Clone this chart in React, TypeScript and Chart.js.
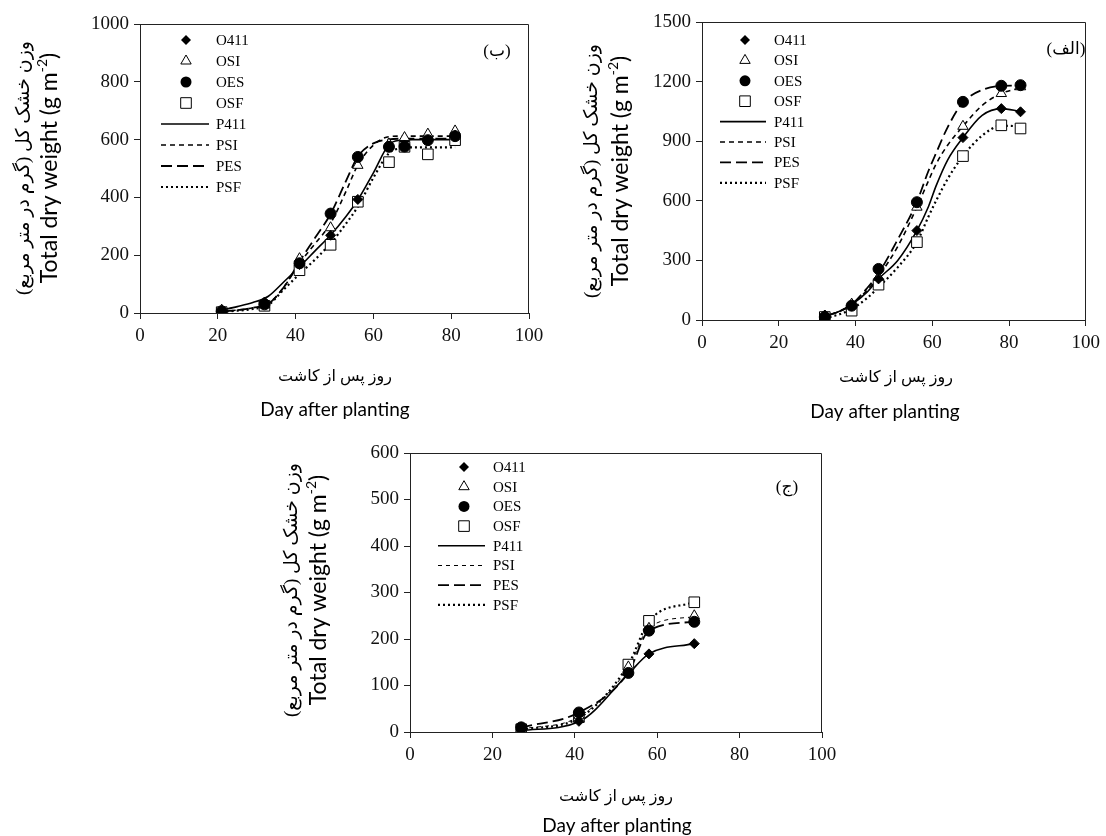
import React, { useEffect, useRef } from "react";
import { Chart, registerables } from "chart.js";

Chart.register(...registerables);

// ---------------- Panel (ب) : top-left ----------------
const xTicksB = [0, 20, 40, 60, 80, 100];
const yTicksB = [0, 200, 400, 600, 800, 1000];
const daysB = [21, 32, 41, 49, 56, 64, 68, 74, 81];
const b_O411 = [8, 38, 168, 269, 393, 578, 581, 598, 615];
const b_OSI = [10, 28, 188, 295, 511, 585, 607, 619, 630];
const b_OES = [6, 30, 172, 344, 540, 575, 576, 598, 612];
const b_OSF = [3, 25, 148, 236, 385, 522, 575, 549, 598];
const fitDaysB = [21, 25, 29, 33, 37, 41, 45, 49, 53, 56, 60, 64, 67, 70, 75, 81];
const b_P411 = [10, 22, 36, 58, 108, 160, 215, 270, 335, 391, 485, 583, 598, 600, 600, 600];
const b_PSI = [5, 10, 18, 32, 90, 172, 240, 310, 422, 512, 581, 610, 612, 612, 612, 612];
const b_PES = [5, 10, 18, 32, 90, 178, 260, 343, 458, 541, 587, 601, 603, 603, 603, 603];
const b_PSF = [5, 8, 14, 28, 82, 135, 185, 241, 310, 368, 468, 553, 570, 573, 573, 573];

// ---------------- Panel (الف) : top-right ----------------
const xTicksA = [0, 20, 40, 60, 80, 100];
const yTicksA = [0, 300, 600, 900, 1200, 1500];
const daysA = [32, 39, 46, 56, 68, 78, 83];
const a_O411 = [25, 72, 207, 450, 918, 1064, 1048];
const a_OSI = [20, 80, 215, 568, 975, 1140, 1174];
const a_OES = [15, 72, 257, 593, 1098, 1179, 1182];
const a_OSF = [15, 47, 178, 392, 825, 980, 964];
const fitDaysA = [32, 36, 39, 43, 46, 51, 56, 59, 61, 64, 68, 73, 78, 83];
const a_P411 = [18, 45, 77, 140, 207, 300, 450, 570, 675, 805, 918, 1030, 1064, 1050];
const a_PSI = [18, 45, 78, 150, 220, 370, 568, 700, 785, 880, 975, 1080, 1140, 1168];
const a_PES = [20, 45, 78, 160, 235, 405, 595, 750, 840, 970, 1095, 1158, 1178, 1180];
const a_PSF = [8, 30, 55, 110, 165, 265, 392, 520, 600, 710, 825, 928, 978, 975];

// ---------------- Panel (ج) : bottom ----------------
const xTicksC = [0, 20, 40, 60, 80, 100];
const yTicksC = [0, 100, 200, 300, 400, 500, 600];
const daysC = [27, 41, 53, 58, 69];
const c_O411 = [5, 23, 127, 168, 190];
const c_OSI = [8, 35, 140, 223, 250];
const c_OES = [10, 42, 127, 218, 237];
const c_OSF = [6, 32, 145, 239, 279];
const fitDaysC = [27, 41, 53, 58, 69];
const c_P411 = [3, 22, 125, 168, 190];
const c_PSI = [6, 33, 138, 225, 248];
const c_PES = [10, 42, 128, 218, 237];
const c_PSF = [5, 30, 145, 238, 280];

const obsLabels = ["O411", "OSI", "OES", "OSF"];
const fitLabels = ["P411", "PSI", "PES", "PSF"];

const yTitleFa = "وزن خشک کل (گرم در متر مربع)";
const yTitleEn = "Total dry weight (g m";
const yTitleSup = "-2";
const xTitleFa = "روز پس از کاشت";
const xTitleEn = "Day after planting";

const SERIF = '"Liberation Serif", "Times New Roman", "DejaVu Sans", serif';
const SANS = 'Lato, "Open Sans", "Liberation Sans", sans-serif';

type MarkerKind = "diamond" | "triangle" | "circle" | "square";
const markerDefs: { kind: MarkerKind; pointStyle: string; radius: number; fill: string }[] = [
  { kind: "diamond", pointStyle: "rectRot", radius: 5, fill: "#000" },
  { kind: "triangle", pointStyle: "triangle", radius: 6, fill: "#fff" },
  { kind: "circle", pointStyle: "circle", radius: 5.5, fill: "#000" },
  { kind: "square", pointStyle: "rect", radius: 7.5, fill: "#fff" },
];
const lineDefs = [
  { dash: [] as number[], width: 1.6 },
  { dash: [5, 4], width: 1.6 },
  { dash: [11, 5], width: 1.8 },
  { dash: [2, 3], width: 2.2 },
];

interface PanelSpec {
  box: { left: number; top: number; width: number; height: number };
  area: { left: number; top: number; right: number; bottom: number };
  xTicks: number[];
  yTicks: number[];
  obsDays: number[];
  obs: number[][];
  fitDays: number[];
  fits: number[][];
  legend: { markerX: number; textX: number; lineX1: number; lineX2: number; y0: number; dy: number };
  tag: { text: string; x: number; y: number };
  yTitle: { faX: number; enX: number; y: number };
  xTitle: { faX: number; enX: number; faY: number; enY: number };
  thinPSI?: boolean;
}

const panels: PanelSpec[] = [
  {
    box: { left: 0, top: 0, width: 560, height: 425 },
    area: { left: 140, top: 24, right: 529, bottom: 313 },
    xTicks: xTicksB,
    yTicks: yTicksB,
    obsDays: daysB,
    obs: [b_O411, b_OSI, b_OES, b_OSF],
    fitDays: fitDaysB,
    fits: [b_P411, b_PSI, b_PES, b_PSF],
    legend: { markerX: 186, textX: 216, lineX1: 161, lineX2: 209, y0: 40, dy: 21 },
    tag: { text: "(ب)", x: 497, y: 52 },
    yTitle: { faX: 24, enX: 50, y: 168 },
    xTitle: { faX: 335, enX: 335, faY: 377, enY: 410 },
  },
  {
    box: { left: 560, top: 0, width: 546, height: 430 },
    area: { left: 702, top: 22, right: 1090, bottom: 320 },
    xTicks: xTicksA,
    yTicks: yTicksA,
    obsDays: daysA,
    obs: [a_O411, a_OSI, a_OES, a_OSF],
    fitDays: fitDaysA,
    fits: [a_P411, a_PSI, a_PES, a_PSF],
    legend: { markerX: 745, textX: 774, lineX1: 720, lineX2: 766, y0: 40, dy: 20.4 },
    tag: { text: "(الف)", x: 1066, y: 50 },
    yTitle: { faX: 592, enX: 621, y: 171 },
    xTitle: { faX: 896, enX: 885, faY: 378, enY: 412 },
  },
  {
    box: { left: 250, top: 430, width: 600, height: 406 },
    area: { left: 410, top: 453, right: 822, bottom: 732 },
    xTicks: xTicksC,
    yTicks: yTicksC,
    obsDays: daysC,
    obs: [c_O411, c_OSI, c_OES, c_OSF],
    fitDays: fitDaysC,
    fits: [c_P411, c_PSI, c_PES, c_PSF],
    legend: { markerX: 464, textX: 493, lineX1: 438, lineX2: 485, y0: 467, dy: 19.7 },
    tag: { text: "(ج)", x: 787, y: 488 },
    yTitle: { faX: 292, enX: 319, y: 590 },
    xTitle: { faX: 616, enX: 617, faY: 797, enY: 826 },
    thinPSI: true,
  },
];

function drawMarker(ctx: CanvasRenderingContext2D, kind: MarkerKind, x: number, y: number) {
  ctx.save();
  ctx.lineWidth = 1;
  ctx.strokeStyle = "#000";
  ctx.beginPath();
  if (kind === "diamond") {
    const r = 5;
    ctx.moveTo(x, y - r);
    ctx.lineTo(x + r, y);
    ctx.lineTo(x, y + r);
    ctx.lineTo(x - r, y);
    ctx.closePath();
    ctx.fillStyle = "#000";
    ctx.fill();
  } else if (kind === "triangle") {
    const r = 6;
    const s = Math.sin((2 * Math.PI) / 3) * r;
    ctx.moveTo(x, y - r);
    ctx.lineTo(x + s, y + r / 2);
    ctx.lineTo(x - s, y + r / 2);
    ctx.closePath();
    ctx.fillStyle = "#fff";
    ctx.fill();
    ctx.stroke();
  } else if (kind === "circle") {
    ctx.arc(x, y, 5.5, 0, Math.PI * 2);
    ctx.fillStyle = "#000";
    ctx.fill();
  } else {
    const h = 7.5 * Math.SQRT1_2;
    ctx.rect(x - h, y - h, 2 * h, 2 * h);
    ctx.fillStyle = "#fff";
    ctx.fill();
    ctx.stroke();
  }
  ctx.restore();
}

function PanelChart({ p }: { p: PanelSpec }) {
  const ref = useRef<HTMLCanvasElement | null>(null);
  useEffect(() => {
    const canvas = ref.current;
    if (!canvas) return;
    const ox = p.box.left;
    const oy = p.box.top;
    const xScaleH = 40;
    const yScaleW = p.area.left - ox;

    const datasets: any[] = [];
    const order = [0, 2, 1, 3];
    order.forEach((i) => {
      const m = markerDefs[i];
      datasets.push({
        label: obsLabels[i],
        data: p.obsDays.map((d, k) => ({ x: d, y: p.obs[i][k] })),
        showLine: false,
        pointStyle: m.pointStyle,
        pointRadius: m.radius,
        pointHoverRadius: m.radius,
        pointBackgroundColor: m.fill,
        pointBorderColor: "#000",
        pointBorderWidth: 1,
      });
    });
    [0, 1, 2, 3].forEach((i) => {
      const l = lineDefs[i];
      const thin = p.thinPSI && i === 1;
      datasets.push({
        label: fitLabels[i],
        data: p.fitDays.map((d, k) => ({ x: d, y: p.fits[i][k] })),
        showLine: true,
        pointRadius: 0,
        borderColor: "#000",
        borderWidth: thin ? 1 : l.width,
        borderDash: thin ? [4, 4] : l.dash,
        cubicInterpolationMode: "monotone",
        fill: false,
      });
    });

    const decor = {
      id: "decor",
      afterDraw(chart: any) {
        const ctx: CanvasRenderingContext2D = chart.ctx;
        const ca = chart.chartArea;
        ctx.save();
        // frame (top & right)
        ctx.strokeStyle = "#222";
        ctx.lineWidth = 1;
        ctx.beginPath();
        ctx.moveTo(Math.round(ca.left), Math.round(ca.top) + 0.5);
        ctx.lineTo(Math.round(ca.right) - 0.5, Math.round(ca.top) + 0.5);
        ctx.lineTo(Math.round(ca.right) - 0.5, Math.round(ca.bottom));
        ctx.stroke();

        // legend
        const lg = p.legend;
        ctx.fillStyle = "#000";
        ctx.font = `15px ${SERIF}`;
        ctx.textBaseline = "middle";
        ctx.textAlign = "left";
        for (let i = 0; i < 4; i++) {
          const y = lg.y0 + lg.dy * i - oy;
          drawMarker(ctx, markerDefs[i].kind, lg.markerX - ox, y);
          ctx.fillStyle = "#000";
          ctx.fillText(obsLabels[i], lg.textX - ox, y + 1);
        }
        for (let i = 0; i < 4; i++) {
          const y = lg.y0 + lg.dy * (i + 4) - oy;
          const l = lineDefs[i];
          const thin = p.thinPSI && i === 1;
          ctx.save();
          ctx.strokeStyle = "#000";
          ctx.lineWidth = thin ? 1 : l.width;
          ctx.setLineDash(thin ? [4, 4] : l.dash);
          ctx.beginPath();
          ctx.moveTo(lg.lineX1 - ox, y);
          ctx.lineTo(lg.lineX2 - ox, y);
          ctx.stroke();
          ctx.restore();
          ctx.fillText(fitLabels[i], lg.textX - ox, y + 1);
        }

        // panel tag
        ctx.font = `17px ${SERIF}`;
        ctx.textAlign = "center";
        ctx.fillText(p.tag.text, p.tag.x - ox, p.tag.y - oy);

        // x titles
        ctx.font = `16px ${SERIF}`;
        ctx.fillText(xTitleFa, p.xTitle.faX - ox, p.xTitle.faY - oy);
        ctx.font = `19px ${SANS}`;
        ctx.fillText(xTitleEn, p.xTitle.enX - ox, p.xTitle.enY - oy);

        // y titles (rotated)
        ctx.save();
        ctx.translate(p.yTitle.faX - ox, p.yTitle.y - oy);
        ctx.rotate(-Math.PI / 2);
        ctx.font = `19px ${SERIF}`;
        ctx.textAlign = "center";
        ctx.fillText(yTitleFa, 0, 0);
        ctx.restore();

        ctx.save();
        ctx.translate(p.yTitle.enX - ox, p.yTitle.y - oy);
        ctx.rotate(-Math.PI / 2);
        ctx.textAlign = "left";
        const mainFont = `23px ${SANS}`;
        const supFont = `14px ${SANS}`;
        ctx.font = mainFont;
        const w1 = ctx.measureText(yTitleEn).width;
        const w3 = ctx.measureText(")").width;
        ctx.font = supFont;
        const w2 = ctx.measureText(yTitleSup).width;
        const total = w1 + w2 + w3;
        let x = -total / 2;
        ctx.font = mainFont;
        ctx.fillText(yTitleEn, x, 0);
        x += w1;
        ctx.font = supFont;
        ctx.fillText(yTitleSup, x, -8);
        x += w2;
        ctx.font = mainFont;
        ctx.fillText(")", x, 0);
        ctx.restore();

        ctx.restore();
      },
    };

    const tickFont = { family: SERIF, size: 19 };
    const plain = (v: any) => String(v);
    const chart = new Chart(canvas, {
      type: "scatter",
      data: { datasets },
      options: {
        animation: false,
        responsive: false,
        maintainAspectRatio: false,
        events: [],
        layout: {
          padding: {
            left: 0,
            top: p.area.top - oy,
            right: ox + p.box.width - p.area.right,
            bottom: oy + p.box.height - p.area.bottom - xScaleH,
          },
        },
        plugins: {
          legend: { display: false },
          tooltip: { enabled: false },
          title: { display: false },
        },
        scales: {
          x: {
            type: "linear",
            min: p.xTicks[0],
            max: p.xTicks[p.xTicks.length - 1],
            afterBuildTicks: (s: any) => {
              s.ticks = p.xTicks.map((v) => ({ value: v }));
            },
            afterFit: (s: any) => {
              s.height = xScaleH;
            },
            ticks: { color: "#111", font: tickFont, padding: 6, maxRotation: 0, autoSkip: false, callback: plain },
            grid: { drawOnChartArea: false, drawTicks: true, tickLength: 6, color: "#222" },
            border: { display: true, color: "#222", width: 1 },
          },
          y: {
            type: "linear",
            min: p.yTicks[0],
            max: p.yTicks[p.yTicks.length - 1],
            afterBuildTicks: (s: any) => {
              s.ticks = p.yTicks.map((v) => ({ value: v }));
            },
            afterFit: (s: any) => {
              s.width = yScaleW;
            },
            ticks: { color: "#111", font: tickFont, padding: 5, autoSkip: false, callback: plain },
            grid: { drawOnChartArea: false, drawTicks: true, tickLength: 6, color: "#222" },
            border: { display: true, color: "#222", width: 1 },
          },
        },
      },
      plugins: [decor],
    } as any);
    return () => chart.destroy();
  }, []);
  return (
    <canvas
      ref={ref}
      width={p.box.width}
      height={p.box.height}
      style={{
        position: "absolute",
        left: p.box.left,
        top: p.box.top,
        width: p.box.width,
        height: p.box.height,
      }}
    />
  );
}

export default function App() {
  return (
    <div
      style={{
        position: "absolute",
        left: 0,
        top: 0,
        width: 1106,
        height: 836,
        background: "#fff",
        overflow: "hidden",
      }}
    >
      {panels.map((p, i) => (
        <PanelChart key={i} p={p} />
      ))}
    </div>
  );
}
